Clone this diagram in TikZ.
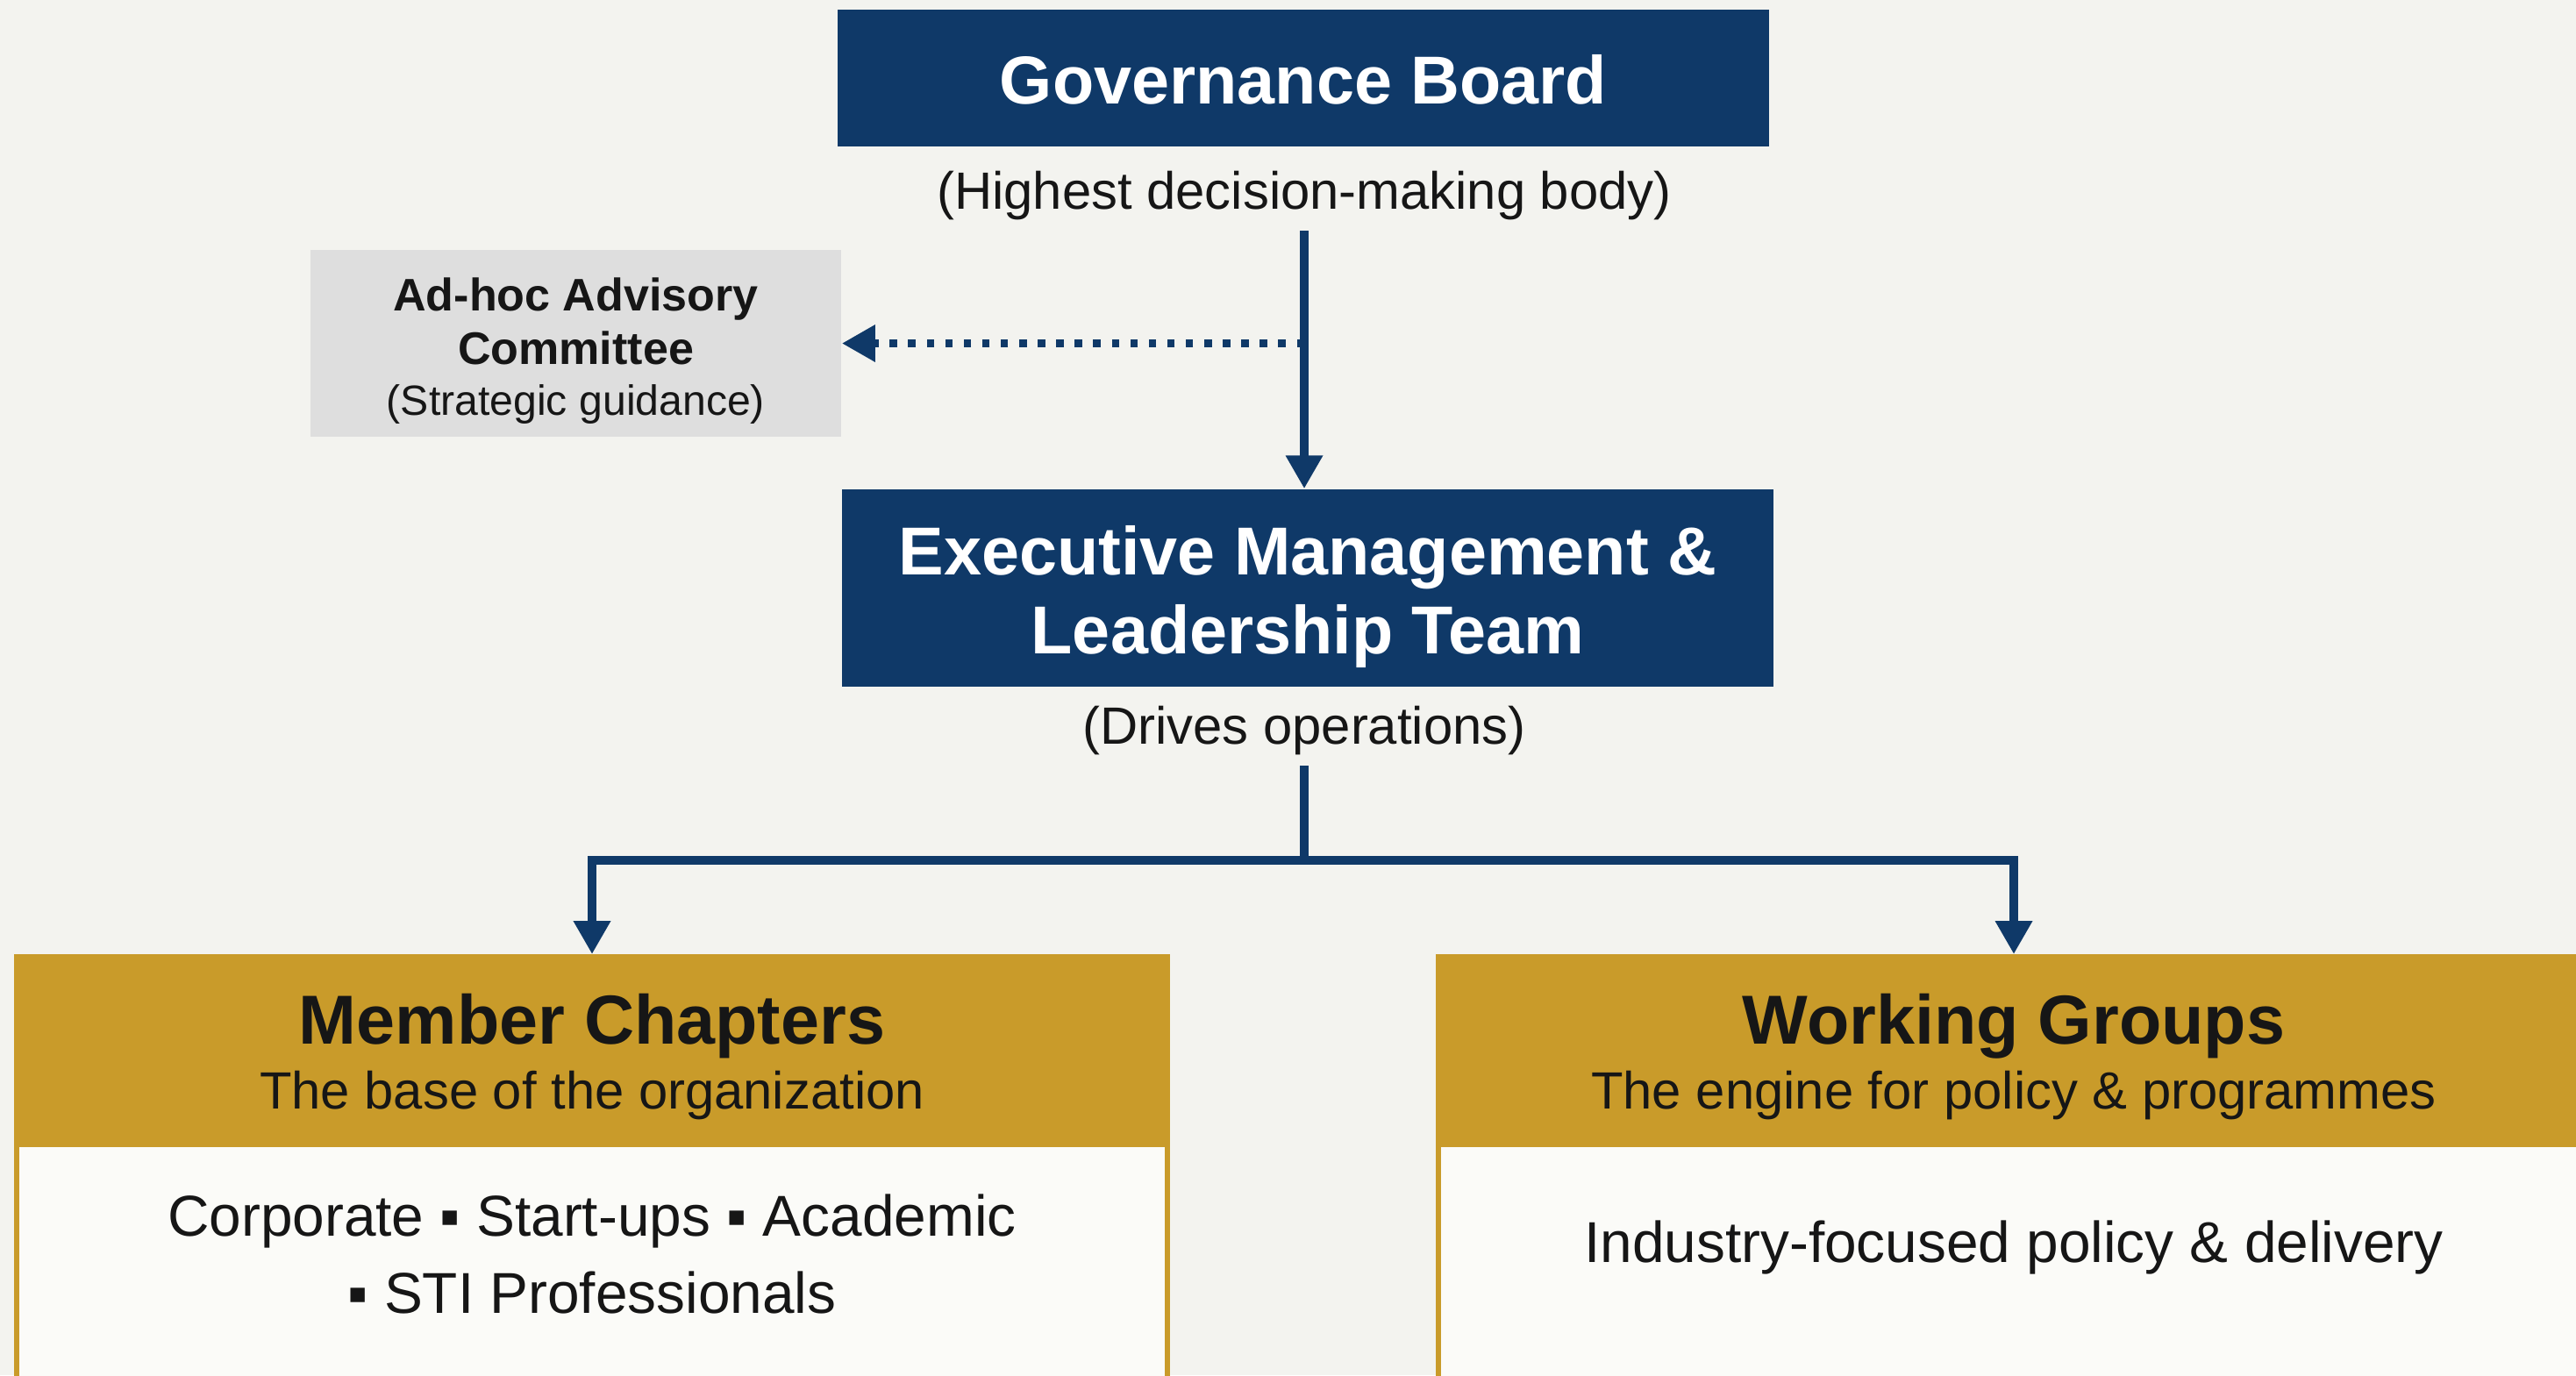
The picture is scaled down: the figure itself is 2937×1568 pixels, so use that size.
\documentclass[tikz,border=0pt]{standalone}
\usepackage{fontspec}
\setmainfont{Liberation Sans}
\usetikzlibrary{arrows.meta}
\definecolor{navy}{RGB}{15,57,104}
\definecolor{gold}{RGB}{201,155,42}
\definecolor{advgray}{RGB}{222,222,222}
\definecolor{paper}{RGB}{243,243,239}
\definecolor{bodyfill}{RGB}{251,251,248}
\definecolor{ink}{RGB}{22,22,22}
\begin{document}
\begin{tikzpicture}[
  x=0.01cm, y=-0.01cm,
  navybox/.style={
    rectangle, fill=navy, minimum width=10.62cm, inner sep=0pt
  },
  navytext/.style={
    text=white, align=center,
    font=\fontsize{22}{25.6}\selectfont\bfseries
  },
  note/.style={
    text=ink, font=\fontsize{17}{20}\selectfont
  },
  advbox/.style={
    rectangle, fill=advgray,
    minimum width=6.05cm, minimum height=2.13cm
  },
  advtext/.style={
    text=ink, align=center,
    font=\fontsize{14.8}{17.5}\selectfont
  },
  goldbody/.style={
    rectangle, draw=gold, line width=1.7pt, fill=bodyfill,
    minimum width=13.11cm, minimum height=5cm, anchor=north
  },
  goldhead/.style={
    rectangle, fill=gold, minimum width=13.17cm,
    minimum height=2.19cm, anchor=north
  },
  headtitle/.style={
    text=ink, font=\fontsize{22.5}{26}\selectfont\bfseries
  },
  headsub/.style={
    text=ink, font=\fontsize{17}{20}\selectfont
  },
  bodytext/.style={
    text=ink, align=center, font=\fontsize{18.7}{25}\selectfont
  },
  link/.style={
    draw=navy, line width=2.8pt,
    -{Triangle[width=11.4pt,length=10.8pt]}
  },
  advlink/.style={
    link, line width=2.6pt, dash pattern=on 2.4pt off 3.6pt
  }
  ]
  \fill[paper] (0,0) rectangle (2937,1568);
  \useasboundingbox (0,0) rectangle (2937,1568);

  \node[navybox, minimum height=1.56cm] (gov) at (1486,89) {};
  \node[navytext] (govtext) at (1486,91) {Governance Board};
  \node[note] (govnote) at (1487,223) {(Highest decision-making body)};

  \node[advbox] (adhoc) at (656.5,391.5) {};
  \node[advtext] (adhoctext) at (656.5,400)
    {\textbf{Ad-hoc Advisory}\\\textbf{Committee}\\[-1pt]%
     {\fontsize{13.7}{16}\selectfont(Strategic guidance)}};

  \node[navybox, minimum height=2.25cm] (exec) at (1491,670.5) {};
  \node[navytext] (exectext) at (1491,680)
    {Executive Management \&\\Leadership Team};
  \node[note] (execnote) at (1487,833) {(Drives operations)};

  \node[goldbody] (memberbox) at (675,1088) {};
  \node[goldhead] (memberhead) at (675,1088) {};
  \node[headtitle] (membertitle) at (675,1170) {Member Chapters};
  \node[headsub] (membersub) at (675,1249) {The base of the organization};
  \node[bodytext] (memberlist) at (675,1430)
    {Corporate ▪ Start-ups ▪ Academic\\▪ STI Professionals};

  \node[goldbody] (workbox) at (2296,1088) {};
  \node[goldhead] (workhead) at (2296,1088) {};
  \node[headtitle] (worktitle) at (2296,1170) {Working Groups};
  \node[headsub] (worksub) at (2296,1249) {The engine for policy \& programmes};
  \node[bodytext] (worklist) at (2296,1422) {Industry-focused policy \& delivery};

  \coordinate (tap) at (govnote.south |- adhoc.east);
  \coordinate (split) at (1487,981);

  \draw[link] (govnote.south) -- (govnote.south |- exec.north);
  \draw[advlink] (tap) -- (adhoc.east);
  \draw[navy, line width=2.8pt] (execnote.south) -- (split);
  \draw[link] (split) -| (memberhead.north);
  \draw[link] (split) -| (workhead.north);
\end{tikzpicture}
\end{document}
